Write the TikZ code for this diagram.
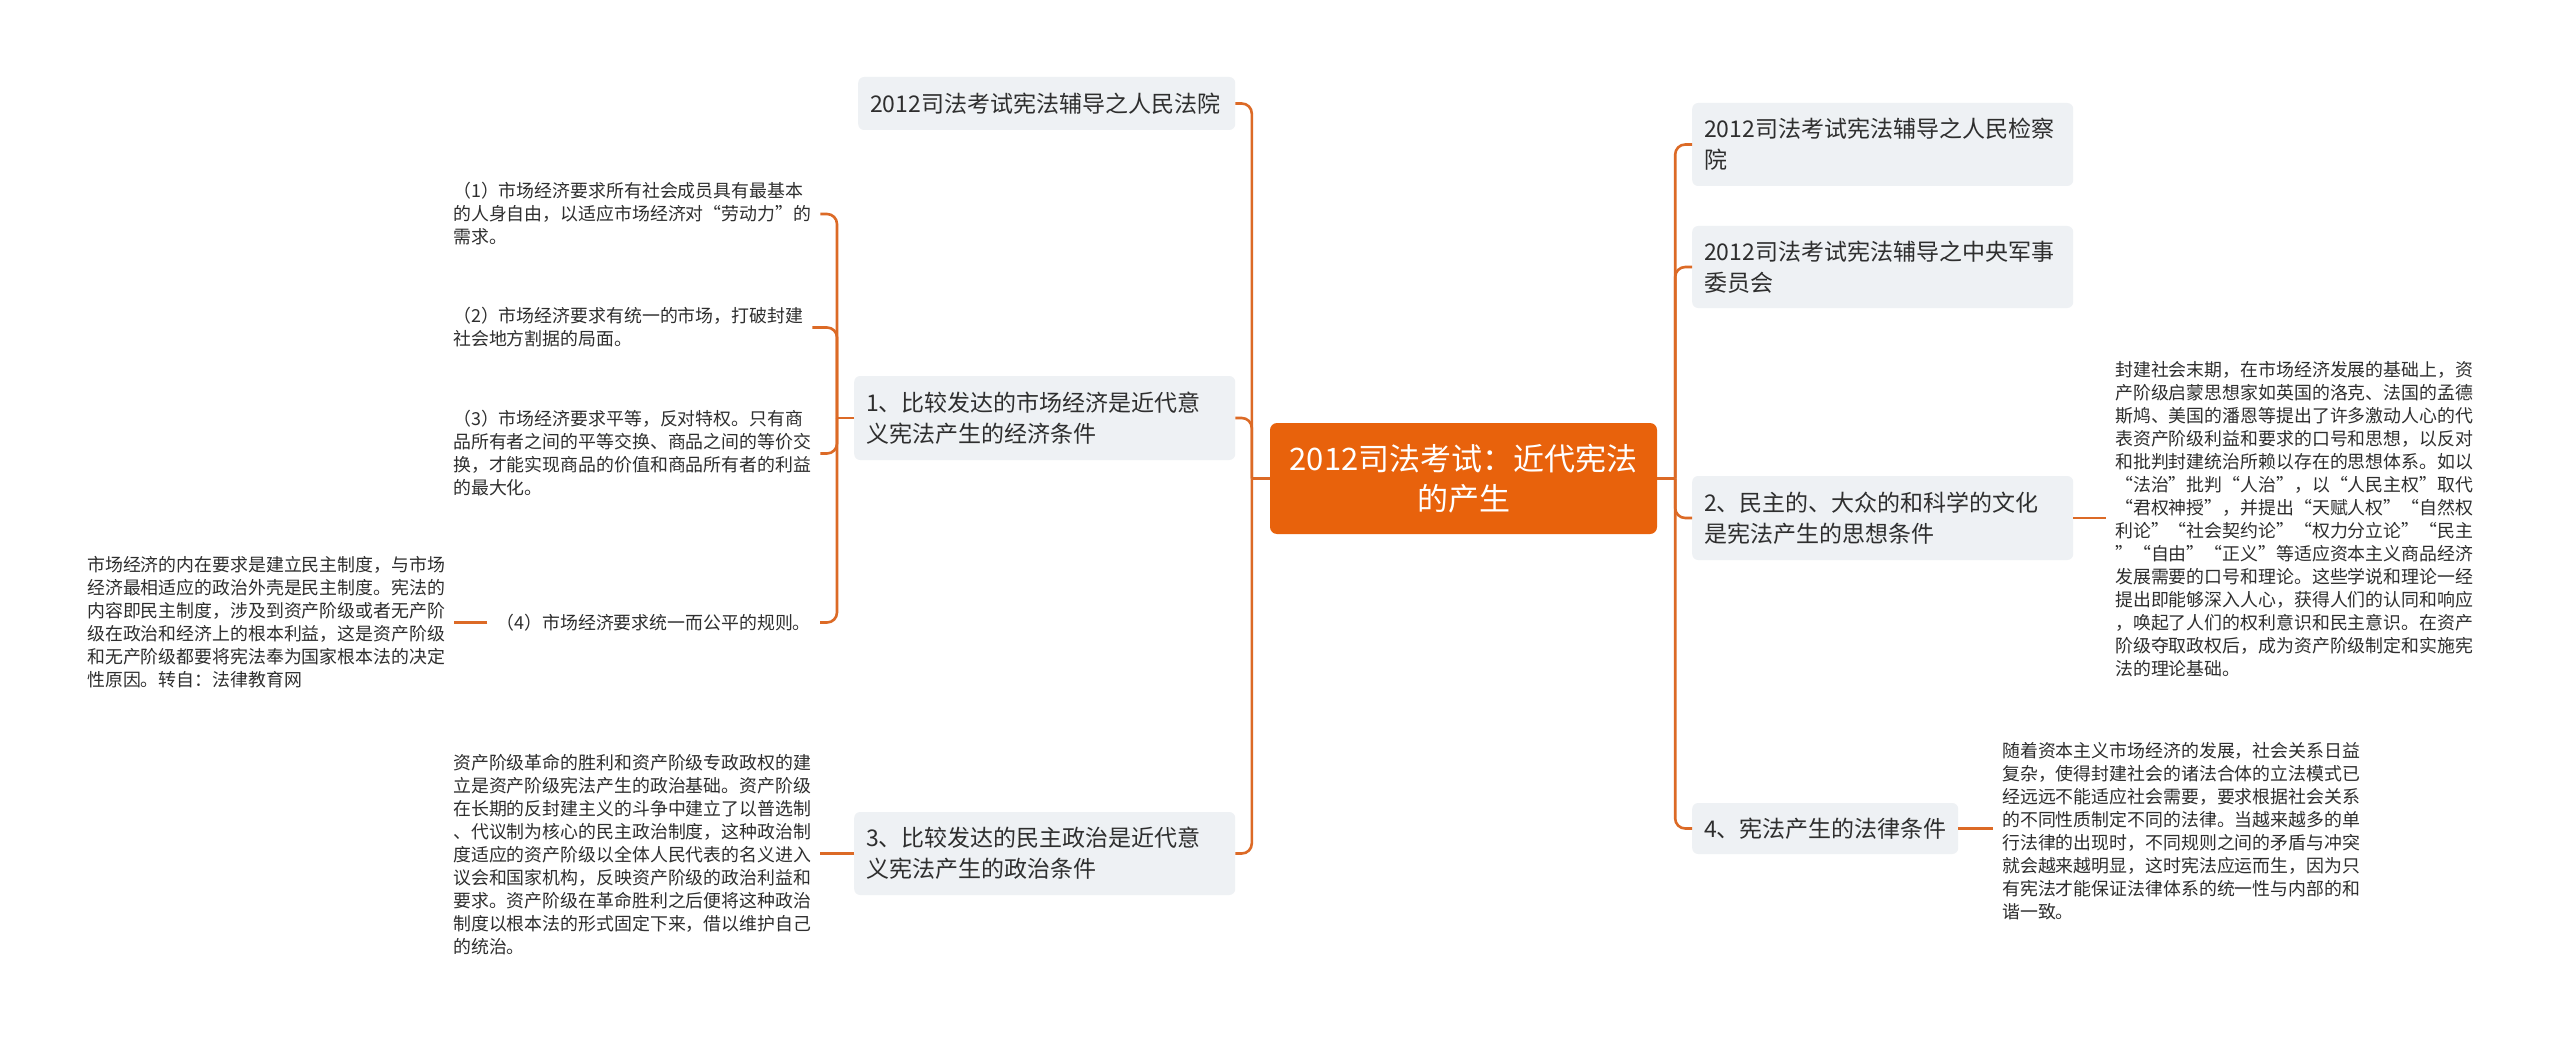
\documentclass[tikz,border=0pt]{standalone}
\usepackage{fontspec}
\setmainfont{Noto Sans CJK SC}
\usetikzlibrary{calc}
\definecolor{topicor}{HTML}{E8620C}
\definecolor{linkor}{HTML}{DC6A26}
\definecolor{boxbg}{HTML}{EEF1F4}
\definecolor{txt}{HTML}{2E2E2E}
\newcommand\zlq{\makebox[1em][r]{“}}
\newcommand\zrq{\makebox[1em][l]{”}}
\begin{document}
\begin{tikzpicture}[x=1pt,y=-1pt,
 topic/.style={fill=topicor, rounded corners=7pt, text=white, font=\fontsize{31}{40}\selectfont, align=center, minimum width=387pt, minimum height=111pt, inner sep=0pt},
 sub/.style={fill=boxbg, rounded corners=6pt, text=txt, font=\fontsize{23}{31}\selectfont, align=left, inner xsep=12pt, inner ysep=0pt, anchor=west},
 leaf/.style={text=txt, font=\fontsize{17.9}{23}\selectfont, align=left, inner xsep=9pt, inner ysep=0pt},
 link/.style={draw=linkor, line width=2.6pt, rounded corners=10pt}
]
\fill[white] (0,0) rectangle (2560,1043);
\useasboundingbox (0,0) rectangle (2560,1043);

\node[topic] (c) at (1463.5,478.5) {2012司法考试：近代宪法\\的产生};

\node[sub, minimum width=377pt, minimum height=53pt, text width=353pt] (lA) at (858,103.5) {2012司法考试宪法辅导之人民法院};
\node[sub, minimum width=381pt, minimum height=84pt, text width=357pt] (l1) at (854,418) {1、比较发达的市场经济是近代意\\义宪法产生的经济条件};
\node[sub, minimum width=381pt, minimum height=83pt, text width=357pt] (l3) at (854,853.5) {3、比较发达的民主政治是近代意\\义宪法产生的政治条件};

\node[sub, minimum width=381pt, minimum height=83pt, text width=357pt] (rA) at (1692,144.5) {2012司法考试宪法辅导之人民检察\\院};
\node[sub, minimum width=381pt, minimum height=82pt, text width=357pt] (rB) at (1692,267) {2012司法考试宪法辅导之中央军事\\委员会};
\node[sub, minimum width=381pt, minimum height=84pt, text width=357pt] (r2) at (1692,518) {2、民主的、大众的和科学的文化\\是宪法产生的思想条件};
\node[sub, minimum width=266pt, minimum height=51pt, text width=242pt] (r4) at (1692,828.5) {4、宪法产生的法律条件};

\node[leaf, anchor=west] (a1) at (444,214) {（1）市场经济要求所有社会成员具有最基本\\的人身自由，以适应市场经济对\zlq 劳动力\zrq 的\\需求。};
\node[leaf, anchor=west] (a2) at (444,327.5) {（2）市场经济要求有统一的市场，打破封建\\社会地方割据的局面。};
\node[leaf, anchor=west] (a3) at (444,453.5) {（3）市场经济要求平等，反对特权。只有商\\品所有者之间的平等交换、商品之间的等价交\\换，才能实现商品的价值和商品所有者的利益\\的最大化。};
\node[leaf, anchor=east] (a4) at (820,622.5) {（4）市场经济要求统一而公平的规则。};
\node[leaf, anchor=west] (a4x) at (78,622.5) {市场经济的内在要求是建立民主制度，与市场\\经济最相适应的政治外壳是民主制度。宪法的\\内容即民主制度，涉及到资产阶级或者无产阶\\级在政治和经济上的根本利益，这是资产阶级\\和无产阶级都要将宪法奉为国家根本法的决定\\性原因。转自：法律教育网};
\node[leaf, anchor=west] (b3) at (444,855) {资产阶级革命的胜利和资产阶级专政政权的建\\立是资产阶级宪法产生的政治基础。资产阶级\\在长期的反封建主义的斗争中建立了以普选制\\、代议制为核心的民主政治制度，这种政治制\\度适应的资产阶级以全体人民代表的名义进入\\议会和国家机构，反映资产阶级的政治利益和\\要求。资产阶级在革命胜利之后便将这种政治\\制度以根本法的形式固定下来，借以维护自己\\的统治。};
\node[leaf, anchor=west] (b2) at (2106,519.5) {封建社会末期，在市场经济发展的基础上，资\\产阶级启蒙思想家如英国的洛克、法国的孟德\\斯鸠、美国的潘恩等提出了许多激动人心的代\\表资产阶级利益和要求的口号和思想，以反对\\和批判封建统治所赖以存在的思想体系。如以\\\zlq 法治\zrq 批判\zlq 人治\zrq ，以\zlq 人民主权\zrq 取代\\\zlq 君权神授\zrq ，并提出\zlq 天赋人权\zrq\zlq 自然权\\利论\zrq\zlq 社会契约论\zrq\zlq 权力分立论\zrq\zlq 民主\\\zrq\zlq 自由\zrq\zlq 正义\zrq 等适应资本主义商品经济\\发展需要的口号和理论。这些学说和理论一经\\提出即能够深入人心，获得人们的认同和响应\\，唤起了人们的权利意识和民主意识。在资产\\阶级夺取政权后，成为资产阶级制定和实施宪\\法的理论基础。};
\node[leaf, anchor=west] (b4) at (1993,831) {随着资本主义市场经济的发展，社会关系日益\\复杂，使得封建社会的诸法合体的立法模式已\\经远远不能适应社会需要，要求根据社会关系\\的不同性质制定不同的法律。当越来越多的单\\行法律的出现时，不同规则之间的矛盾与冲突\\就会越来越明显，这时宪法应运而生，因为只\\有宪法才能保证法律体系的统一性与内部的和\\谐一致。};

\coordinate (LJ) at ($(c.west)+(-18,0)$);
\draw[link] (c.west) -- (LJ);
\draw[link] (LJ) |- (lA.east);
\draw[link] (LJ) |- (l1.east);
\draw[link] (LJ) |- (l3.east);

\coordinate (RJ) at ($(c.east)+(18,0)$);
\draw[link] (c.east) -- (RJ);
\draw[link] (RJ) |- (rA.west);
\draw[link] (RJ) |- (rB.west);
\draw[link] (RJ) |- (r2.west);
\draw[link] (RJ) |- (r4.west);

\coordinate (J1) at ($(l1.west)+(-17,0)$);
\draw[link] (l1.west) -- (J1);
\draw[link] (J1) |- (a1.east);
\draw[link] (J1) |- (a2.east);
\draw[link] (J1) |- (a3.east);
\draw[link] (J1) |- (a4.east);

\draw[link] (a4.west) -- (a4.west -| a4x.east);
\draw[link] (l3.west) -- (l3.west -| b3.east);
\draw[link] (r2.east) -- (r2.east -| b2.west);
\draw[link] (r4.east) -- (r4.east -| b4.west);
\end{tikzpicture}
\end{document}
